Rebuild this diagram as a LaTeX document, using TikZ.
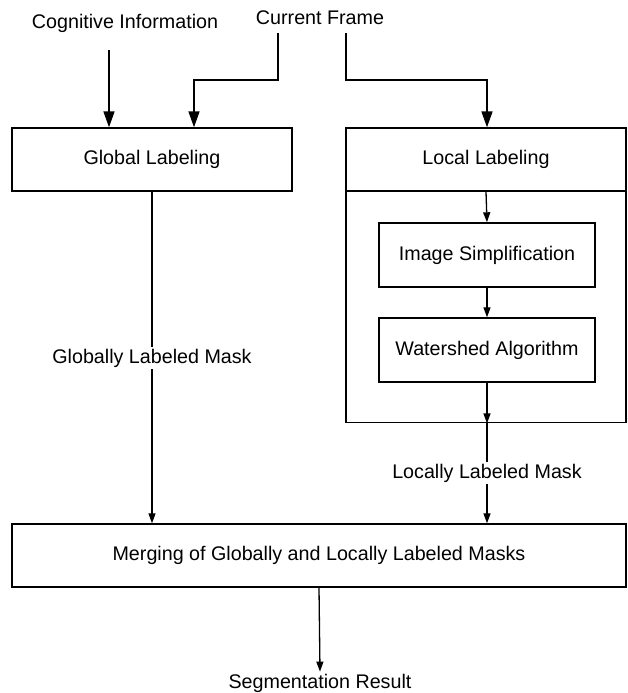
\documentclass[tikz,border=0pt]{standalone}
\usepackage{fontspec}
\setmainfont{Liberation Sans}
\usetikzlibrary{arrows.meta}
\begin{document}
\begin{tikzpicture}[x=1pt,y=-1pt,
  txt/.style={font=\fontsize{19.7}{22}\selectfont, inner sep=2pt},
  box/.style={draw, line width=1.4pt, inner sep=0pt, font=\fontsize{19.7}{22}\selectfont},
  con/.style={line width=1.3pt},
  bigarrow/.style={line width=1.7pt, -{Triangle[length=16pt,width=11pt]}},
  arr/.style={line width=1.3pt, -{Triangle[length=10pt,width=7pt]}}]
\useasboundingbox (0,0) rectangle (628,693);
% texts
\node[txt] (cog) at (125,23) {Cognitive Information};
\node[txt] (cur) at (320,18) {Current Frame};
\node[txt] (seg) at (320,683) {Segmentation Result};
% boxes
\node[box, minimum width=280pt, minimum height=63pt] (glob) at (152,159.5) {Global Labeling};
\node[box, minimum width=280pt, minimum height=63pt] (lochdr) at (486,159.5) {Local Labeling};
\node[box, minimum width=280pt, minimum height=231pt, anchor=north] (locbody) at (486,191) {};
\node[box, minimum width=216pt, minimum height=64pt] (simp) at (487,255) {Image Simplification};
\node[box, minimum width=216pt, minimum height=64pt] (wat) at (487,350) {Watershed Algorithm};
\node[box, minimum width=614pt, minimum height=63pt] (merge) at (319,555.5) {Merging of Globally and Locally Labeled Masks};
% labels on lines
\node[txt, fill=white] (gmask) at (152,358) {Globally Labeled Mask};
\node[txt, fill=white] (lmask) at (487,473) {Locally Labeled Mask};
% coordinates
\coordinate (cogs) at (109,50);
\coordinate (curl) at (278,33);
\coordinate (curr) at (346,33);
% connectors
\draw[bigarrow] (cogs) -- (cogs |- glob.north);
\draw[bigarrow] (curl) -- (278,80) -| ([xshift=42pt]glob.north);
\draw[bigarrow] (curr) -- (346,80) -| ([xshift=1pt]lochdr.south |- lochdr.north);
\draw[arr] (lochdr.south) -- (simp.north);
\draw[arr] (simp) -- (wat);
\draw[arr] (wat.south) -- (wat.south |- locbody.south);
\draw[con] (wat.south |- locbody.south) -- (lmask.north);
\draw[arr] (lmask.south) -- (lmask.south |- merge.north);
\draw[con] (glob.south) -- (gmask.north);
\draw[arr] (gmask.south) -- (gmask.south |- merge.north);
\draw[arr] (merge.south) -- (seg.north);
\end{tikzpicture}
\end{document}
